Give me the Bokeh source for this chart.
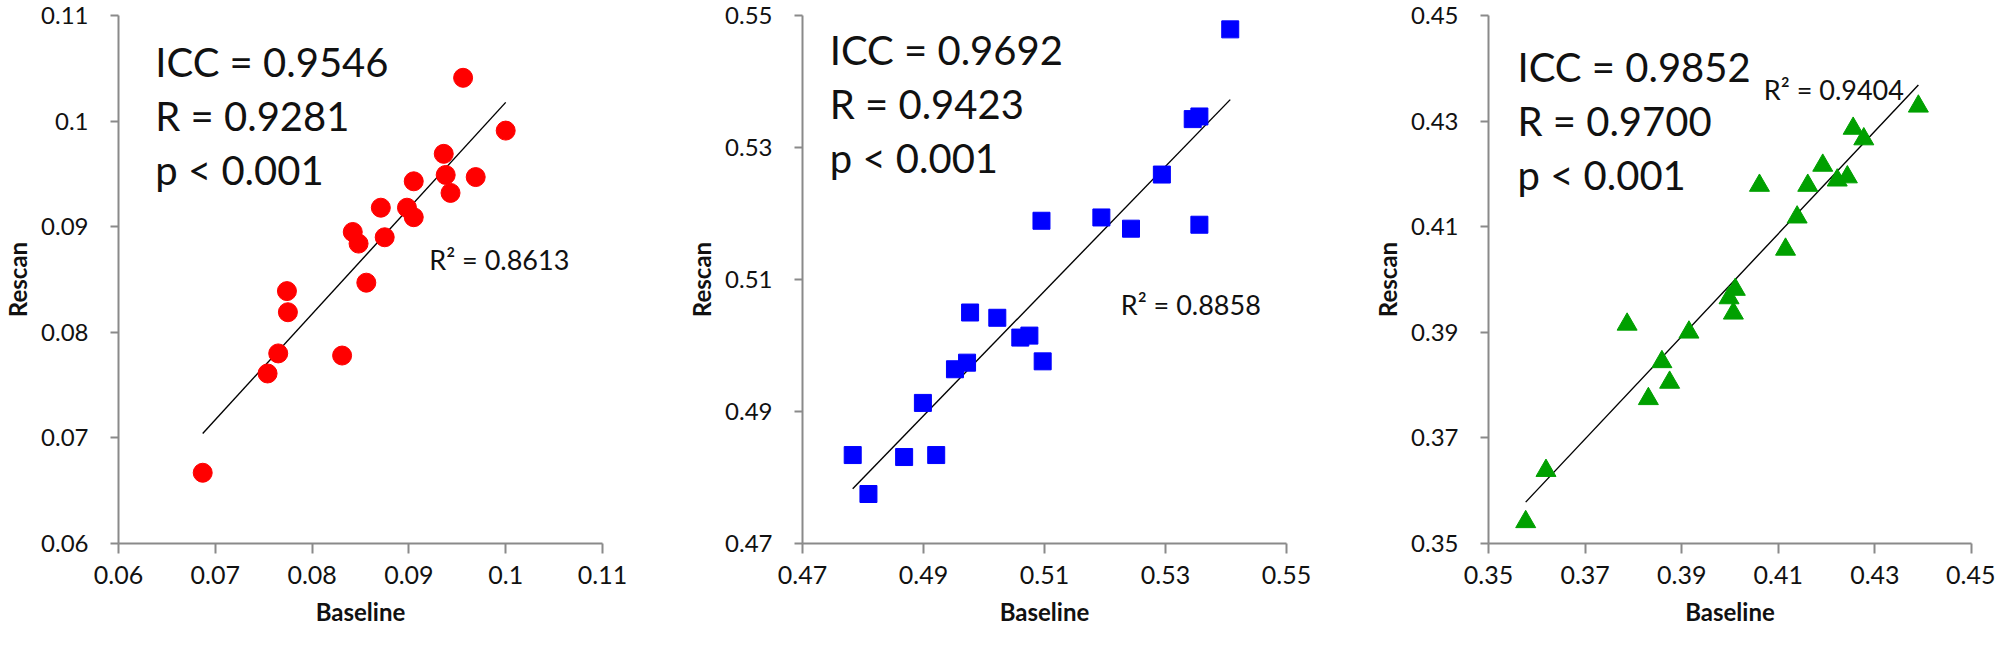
import numpy as np
from bokeh.plotting import figure
from bokeh.layouts import row
from bokeh.models import Range1d, FixedTicker, Label
from bokeh.embed import file_html
from bokeh.resources import INLINE

# ---------------- data ----------------
# Panel A (red circles)
base_a = [0.0687, 0.0754, 0.0765, 0.0774, 0.0775, 0.0831, 0.0842, 0.0848, 0.0856, 0.0871,
          0.0875, 0.0898, 0.0905, 0.0905, 0.0936, 0.0938, 0.0943, 0.0956, 0.0969, 0.1000]
rescan_a = [0.0667, 0.0761, 0.0780, 0.0839, 0.0819, 0.0778, 0.0895, 0.0884, 0.0847, 0.0918,
            0.0890, 0.0918, 0.0909, 0.0943, 0.0969, 0.0949, 0.0932, 0.1041, 0.0947, 0.0991]
ticks_a = [0.06, 0.07, 0.08, 0.09, 0.10, 0.11]
tick_labels_a = ["0.06", "0.07", "0.08", "0.09", "0.1", "0.11"]
stats_a = ["ICC = 0.9546", "R = 0.9281", "p < 0.001"]
r2_a = "R\u00b2 = 0.8613"

# Panel B (blue squares)
base_b = [0.4783, 0.4809, 0.4868, 0.4899, 0.4921, 0.4952, 0.4972, 0.4977, 0.5022, 0.5060,
          0.5075, 0.5095, 0.5097, 0.5194, 0.5243, 0.5294, 0.5345, 0.5356, 0.5356, 0.5407]
rescan_b = [0.4834, 0.4775, 0.4831, 0.4913, 0.4834, 0.4964, 0.4974, 0.5050, 0.5042, 0.5012,
            0.5015, 0.5189, 0.4976, 0.5194, 0.5177, 0.5259, 0.5343, 0.5347, 0.5183, 0.5479]
ticks_b = [0.47, 0.49, 0.51, 0.53, 0.55]
tick_labels_b = ["0.47", "0.49", "0.51", "0.53", "0.55"]
stats_b = ["ICC = 0.9692", "R = 0.9423", "p < 0.001"]
r2_b = "R\u00b2 = 0.8858"

# Panel C (green triangles)
base_c = [0.3577, 0.3619, 0.3787, 0.3831, 0.3859, 0.3875, 0.3915, 0.3998, 0.4011, 0.4007,
          0.4061, 0.4115, 0.4139, 0.4161, 0.4192, 0.4222, 0.4243, 0.4255, 0.4277, 0.4390]
rescan_c = [0.3541, 0.3638, 0.3915, 0.3774, 0.3844, 0.3805, 0.3900, 0.3965, 0.3981, 0.3936,
            0.4178, 0.4057, 0.4118, 0.4178, 0.4216, 0.4188, 0.4194, 0.4286, 0.4266, 0.4328]
ticks_c = [0.35, 0.37, 0.39, 0.41, 0.43, 0.45]
tick_labels_c = ["0.35", "0.37", "0.39", "0.41", "0.43", "0.45"]
stats_c = ["ICC = 0.9852", "R = 0.9700", "p < 0.001"]
r2_c = "R\u00b2 = 0.9404"

FONT = "Lato"
AXIS_GRAY = "#8a8a8a"
TXT = "#111111"


def make_panel(base, rescan, ticks, tick_labels, marker, color, size,
               stats, stats_pos, r2, r2_pos, fw, right):
    p = figure(frame_width=fw, frame_height=528, output_backend="svg",
               toolbar_location=None,
               x_range=Range1d(ticks[0], ticks[-1]), y_range=Range1d(ticks[0], ticks[-1]),
               min_border_left=113, min_border_right=right, min_border_top=15,
               min_border_bottom=91)
    p.outline_line_color = None
    p.grid.visible = False
    p.background_fill_color = "white"
    p.border_fill_color = "white"

    overrides = {t: l for t, l in zip(ticks, tick_labels)}
    for ax in (p.xaxis[0], p.yaxis[0]):
        ax.ticker = FixedTicker(ticks=ticks)
        ax.major_label_overrides = overrides
        ax.axis_line_color = AXIS_GRAY
        ax.axis_line_width = 2
        ax.major_tick_line_color = AXIS_GRAY
        ax.major_tick_line_width = 2
        ax.major_tick_in = 0
        ax.minor_tick_line_color = None
        ax.major_label_text_font = FONT
        ax.major_label_text_color = TXT
        ax.axis_label_text_font = FONT
        ax.axis_label_text_font_style = "bold"
        ax.axis_label_text_font_size = "24px"
        ax.axis_label_text_color = TXT
    p.xaxis.major_label_text_font_size = "25px"
    p.yaxis.major_label_text_font_size = "24px"
    p.xaxis.major_tick_out = 10
    p.yaxis.major_tick_out = 8
    p.xaxis.major_label_standoff = 12
    p.yaxis.major_label_standoff = 22
    p.xaxis.axis_label_standoff = 10
    p.yaxis.axis_label_standoff = 6
    p.xaxis.axis_label = "Baseline"
    p.yaxis.axis_label = "Rescan"

    # least-squares trend line computed from the data
    xb = np.array(base)
    yr = np.array(rescan)
    slope, icpt = np.polyfit(xb, yr, 1)
    xl = np.array([xb.min(), xb.max()])
    p.line(xl, slope * xl + icpt, line_color="black", line_width=1.4)

    p.scatter(base, rescan, marker=marker, size=size, fill_color=color,
              line_color=color)

    for i, s in enumerate(stats):
        p.add_layout(Label(x=stats_pos[0], y=stats_pos[1], y_offset=-54 * i, text=s,
                           text_font=FONT, text_font_size="40px", text_color=TXT,
                           text_baseline="alphabetic"))
    p.add_layout(Label(x=r2_pos[0], y=r2_pos[1], text=r2, text_font=FONT,
                       text_font_size="27px", text_color=TXT,
                       text_baseline="alphabetic"))
    return p


pa = make_panel(base_a, rescan_a, ticks_a, tick_labels_a, "circle", "#ff0000", 19,
                stats_a, (0.0638, 0.1056), r2_a, (0.0921, 0.0869), 484, 82)
pb = make_panel(base_b, rescan_b, ticks_b, tick_labels_b, "square", "#0000ff", 17,
                stats_b, (0.4745, 0.5448), r2_b, (0.5226, 0.5062), 484, 84)
pc = make_panel(base_c, rescan_c, ticks_c, tick_labels_c, "triangle", "#00a000", 20,
                stats_c, (0.3560, 0.4403), r2_c, (0.4070, 0.4359), 483, 24)

layout = row(pa, pb, pc)
open("out.html", "w").write(file_html(layout, INLINE))
